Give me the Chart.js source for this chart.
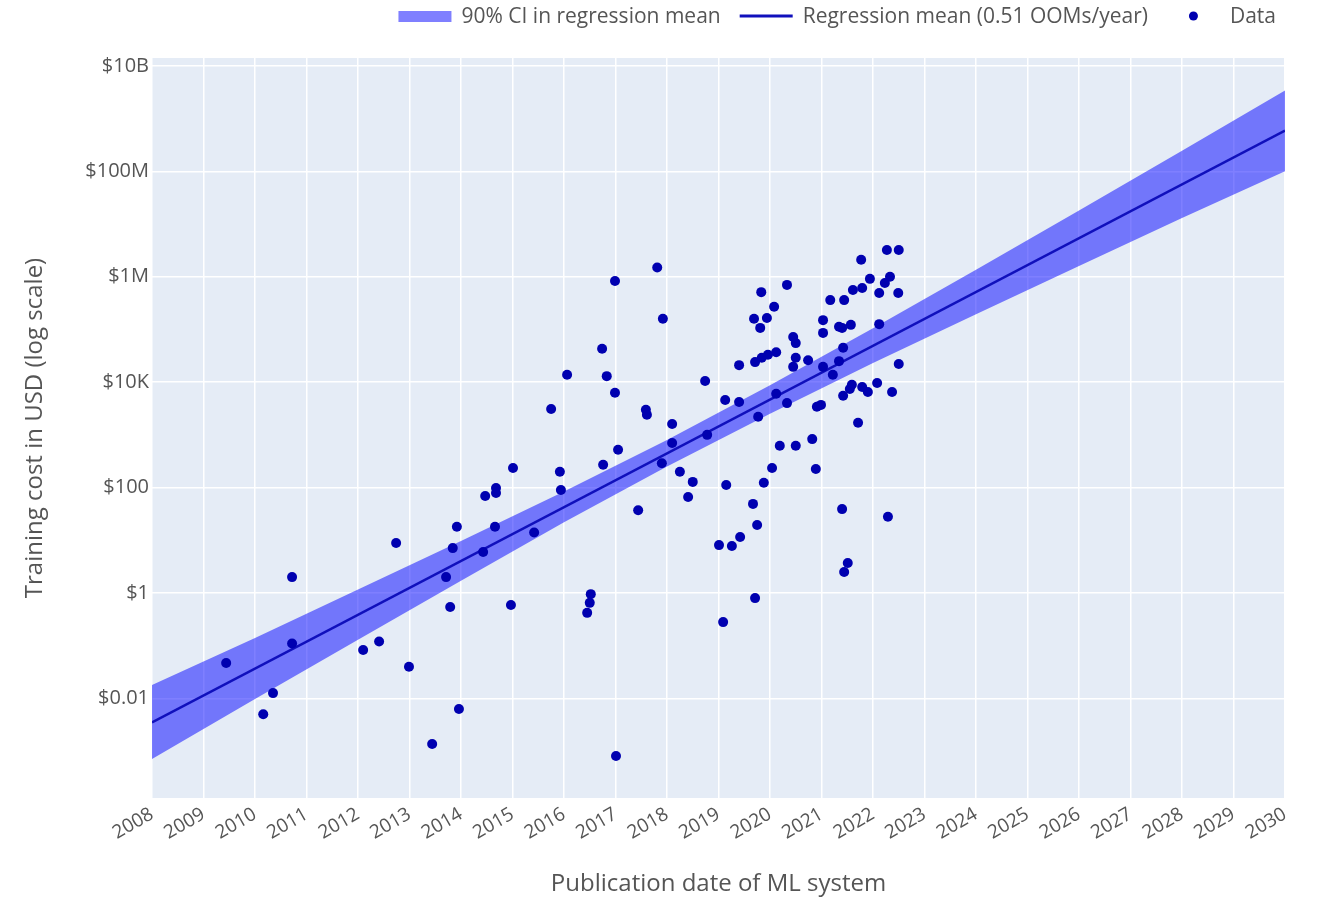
<!DOCTYPE html>
<html>
<head>
<meta charset="utf-8">
<script src="https://cdn.jsdelivr.net/npm/chart.js@4.4.1/dist/chart.umd.min.js"></script>
<style>
  html, body { margin: 0; padding: 0; background: #fff; }
  #wrap { width: 1322px; height: 900px; }
</style>
</head>
<body>
<div id="wrap"><canvas id="costChart" width="1322" height="900"></canvas></div>
<script>
// training runs: publication date (decimal year) and cost in USD
const dataYear = [
  2009.44, 2010.16, 2010.35, 2010.72, 2010.72, 2012.10, 2012.41, 2012.74, 2012.99, 2013.44,
  2013.71, 2013.79, 2013.84, 2013.92, 2013.96, 2014.43, 2014.47, 2014.68, 2014.68, 2014.66,
  2014.97, 2015.01, 2015.42, 2015.75, 2015.92, 2015.94, 2016.06, 2016.45, 2016.50, 2016.52,
  2016.74, 2016.76, 2016.83, 2016.99, 2016.99, 2017.01, 2017.05, 2017.44, 2017.59, 2017.61,
  2017.81, 2017.92, 2017.90, 2018.10, 2018.10, 2018.25, 2018.41, 2018.50, 2018.74, 2018.78,
  2019.01, 2019.09, 2019.15, 2019.13, 2019.26, 2019.42, 2019.40, 2019.40, 2019.67, 2019.71,
  2019.75, 2019.77, 2019.69, 2019.71, 2019.83, 2019.81, 2019.94, 2019.96, 2019.84, 2019.88,
  2020.04, 2020.08, 2020.12, 2020.12, 2020.19, 2020.33, 2020.33, 2020.45, 2020.50, 2020.50,
  2020.45, 2020.50, 2020.74, 2020.82, 2020.89, 2020.91, 2020.99, 2021.03, 2021.03, 2021.03,
  2021.17, 2021.22, 2021.34, 2021.40, 2021.34, 2021.42, 2021.42, 2021.40, 2021.44, 2021.51,
  2021.44, 2021.57, 2021.59, 2021.55, 2021.61, 2021.71, 2021.79, 2021.77, 2021.79, 2021.90,
  2021.94, 2022.08, 2022.12, 2022.12, 2022.23, 2022.27, 2022.29, 2022.33, 2022.37, 2022.49,
  2022.50, 2022.50
];
const dataCost = [
  0.047, 0.005, 0.0126, 2.0, 0.11, 0.083, 0.12, 8.9, 0.04, 0.00136,
  2.0, 0.54, 7.1, 18, 0.0063, 6.0, 69, 98, 79, 18,
  0.59, 235, 14, 3100, 200, 90, 13800, 0.42, 0.65, 0.95,
  43000, 270, 13000, 830000, 6300, 0.00081, 520, 37, 3000, 2400,
  1.5e6, 160000, 290, 1600, 700, 200, 66, 128, 10500, 1000,
  8.1, 0.28, 112, 4600, 7.8, 11.5, 4200, 21000, 49, 0.8,
  19.5, 2200, 160000, 24000, 510000, 107000, 165000, 33000, 29000, 123,
  235, 270000, 37000, 6000, 620, 700000, 4000, 72000, 55000, 29000,
  19500, 620, 26000, 830, 225, 3400, 3700, 150000, 86000, 19500,
  360000, 13800, 112000, 107000, 25000, 45000, 5500, 39, 360000, 3.7,
  2.5, 122000, 8900, 7400, 560000, 1700, 610000, 2.1e6, 8100, 6500,
  910000, 9600, 490000, 126000, 760000, 3.2e6, 28, 1.0e6, 6500, 490000,
  3.2e6, 22000
];

// regression mean (straight in log space)
const regYear = [2008, 2030];
const regCost = [0.0035, 5.9e8];

// 90% CI band edges
const ciYear  = [2008, 2010, 2012, 2014, 2016, 2018, 2020, 2022, 2024, 2026, 2028, 2030];
const ciUpper = [0.018, 0.14, 1.16, 9.7, 84, 800, 8700, 105000, 1.35e6, 1.8e7, 2.45e8, 3.4e9];
const ciLower = [0.00071, 0.0097, 0.13, 1.7, 22, 250, 2500, 23000, 1.95e5, 1.6e6, 1.3e7, 1.0e8];

const yTickValues = [0.01, 1, 100, 1e4, 1e6, 1e8, 1e10];
const yTickLabels = ['$0.01', '$1', '$100', '$10K', '$1M', '$100M', '$10B'];

const FONT = 'Open Sans';
const TEXT = '#555555';
const BAND = 'rgba(0,0,255,0.5)';
const LINE = '#1010bc';
const DOT = '#0000b0';

const zip = (xs, ys) => xs.map((x, i) => ({ x: x, y: ys[i] }));

// plotly-ish background behind the plot area
const bgPlugin = {
  id: 'bg',
  beforeDraw(chart) {
    const { ctx, chartArea: a } = chart;
    ctx.save();
    ctx.fillStyle = '#fff';
    ctx.fillRect(0, 0, chart.width, chart.height);
    ctx.fillStyle = '#e5ecf6';
    ctx.fillRect(a.left, a.top, a.right - a.left, a.bottom - a.top);
    ctx.restore();
  }
};

// horizontal legend at top right
const legendPlugin = {
  id: 'topLegend',
  afterDraw(chart) {
    const ctx = chart.ctx;
    const items = [
      { kind: 'band', text: chart.data.datasets[2].label },
      { kind: 'line', text: chart.data.datasets[1].label },
      { kind: 'dot', text: chart.data.datasets[0].label }
    ];
    const sw = 53, gap = 10, between = 19, y = 17;
    ctx.save();
    ctx.font = '21px "' + FONT + '"';
    ctx.textBaseline = 'middle';
    let total = 0;
    items.forEach((it, i) => {
      it.w = ctx.measureText(it.text).width;
      total += sw + gap + it.w + (i < items.length - 1 ? between : 0);
    });
    let x = 1276 - total;
    items.forEach(it => {
      if (it.kind === 'band') {
        ctx.fillStyle = BAND;
        ctx.fillRect(x, y - 6, sw, 11);
      } else if (it.kind === 'line') {
        ctx.strokeStyle = LINE;
        ctx.lineWidth = 3;
        ctx.beginPath();
        ctx.moveTo(x, y - 1);
        ctx.lineTo(x + sw, y - 1);
        ctx.stroke();
      } else {
        ctx.fillStyle = DOT;
        ctx.beginPath();
        ctx.arc(x + sw / 2, y - 1, 4.5, 0, Math.PI * 2);
        ctx.fill();
      }
      ctx.fillStyle = TEXT;
      ctx.fillText(it.text, x + sw + gap, y);
      x += sw + gap + it.w + between;
    });
    ctx.restore();
  }
};

new Chart(document.getElementById('costChart'), {
  type: 'scatter',
  data: {
    datasets: [
      {
        label: 'Data',
        data: zip(dataYear, dataCost),
        backgroundColor: DOT,
        borderColor: DOT,
        pointRadius: 5,
        pointBorderWidth: 0,
        order: 0
      },
      {
        label: 'Regression mean (0.51 OOMs/year)',
        data: zip(regYear, regCost),
        showLine: true,
        borderColor: LINE,
        borderWidth: 2.5,
        pointRadius: 0,
        order: 1
      },
      {
        label: '90% CI in regression mean',
        data: zip(ciYear, ciUpper),
        showLine: true,
        fill: '+1',
        backgroundColor: BAND,
        borderColor: 'transparent',
        borderWidth: 0,
        pointRadius: 0,
        order: 2
      },
      {
        label: 'ci-lower',
        data: zip(ciYear, ciLower),
        showLine: true,
        fill: false,
        borderColor: 'transparent',
        borderWidth: 0,
        pointRadius: 0,
        order: 3
      }
    ]
  },
  options: {
    responsive: false,
    animation: false,
    layout: { padding: { left: 0, top: 58, right: 37, bottom: 0 } },
    plugins: {
      legend: { display: false },
      tooltip: { enabled: false }
    },
    scales: {
      x: {
        type: 'linear',
        min: 2008,
        max: 2030,
        ticks: {
          stepSize: 1,
          autoSkip: false,
          minRotation: 30,
          maxRotation: 30,
          padding: 5,
          color: TEXT,
          font: { family: FONT, size: 19 },
          callback: v => String(v)
        },
        grid: { color: '#ffffff', lineWidth: 1.5, drawTicks: false },
        border: { display: false },
        title: {
          display: true,
          text: 'Publication date of ML system',
          color: TEXT,
          font: { family: FONT, size: 24 },
          padding: { top: 0, bottom: 1 }
        },
        afterFit: s => { s.height = 102; }
      },
      y: {
        type: 'logarithmic',
        min: 1.29e-4,
        max: 1.41e10,
        afterBuildTicks: s => { s.ticks = yTickValues.map(v => ({ value: v })); },
        ticks: {
          padding: 3,
          color: TEXT,
          font: { family: FONT, size: 20 },
          callback: v => {
            const i = yTickValues.findIndex(t => Math.abs(Math.log10(t) - Math.log10(v)) < 1e-6);
            return i >= 0 ? yTickLabels[i] : '';
          }
        },
        grid: { color: '#ffffff', lineWidth: 1.5, drawTicks: false },
        border: { display: false },
        title: {
          display: true,
          text: 'Training cost in USD (log scale)',
          color: TEXT,
          font: { family: FONT, size: 24 },
          padding: { top: 21, bottom: 0 }
        },
        afterFit: s => { s.width = 152; }
      }
    }
  },
  plugins: [bgPlugin, legendPlugin]
});
</script>
</body>
</html>
